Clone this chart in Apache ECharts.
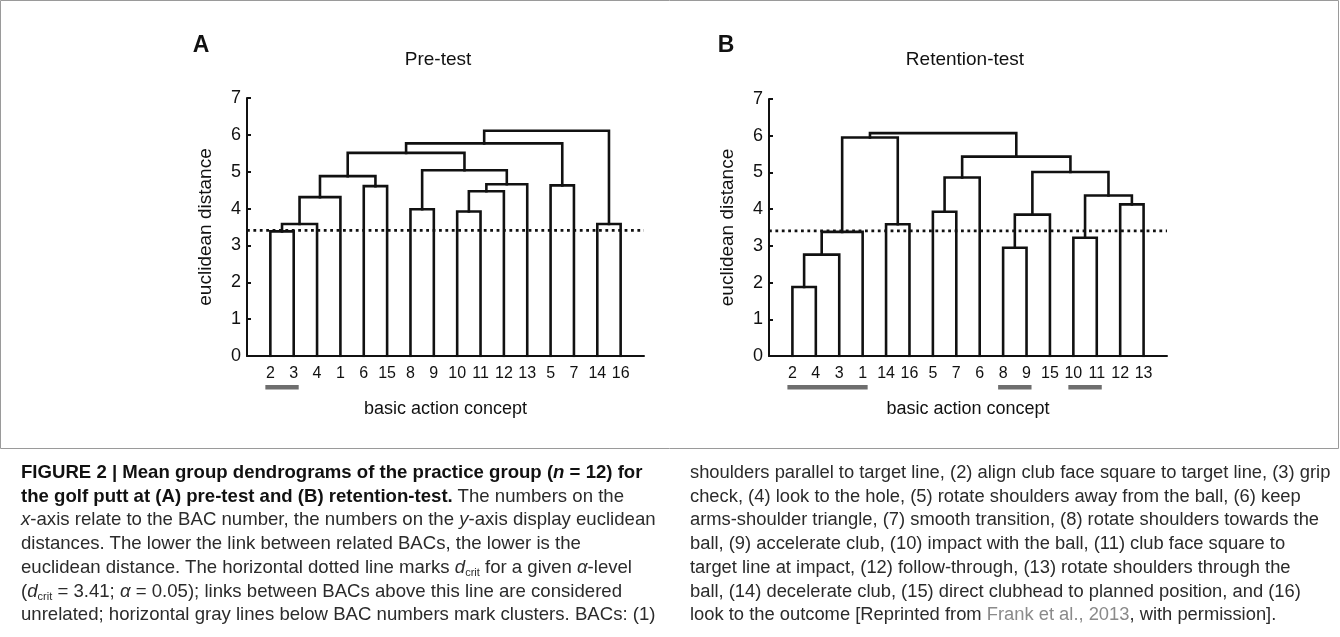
<!DOCTYPE html>
<html>
<head>
<meta charset="utf-8">
<script src="https://cdn.jsdelivr.net/npm/echarts@6/dist/echarts.min.js"></script>
<style>
  html, body { margin: 0; padding: 0; background: #fff; }
  #wrap { position: relative; width: 1340px; height: 637px; overflow: hidden; }
  #chart { position: absolute; left: 0; top: 0; width: 1340px; height: 637px; }
  .cap { position: absolute; top: 460px; font-family: "Liberation Sans", Arial, sans-serif; font-size: 18.6px; line-height: 23.7px; color: #2b2b2b; white-space: nowrap; }
  .cap b { color: #111; }
  .cap sub { font-size: 11px; vertical-align: -3px; line-height: 0; }
  .cap .ref { color: #8a8a8a; }
</style>
</head>
<body>
<div id="wrap">
  <div id="chart"></div>
  <div class="cap" style="left:21px;">
    <b>FIGURE 2 | Mean group dendrograms of the practice group (<i>n</i> = 12) for</b><br>
    <b>the golf putt at (A) pre-test and (B) retention-test.</b> The numbers on the<br>
    <i>x</i>-axis relate to the BAC number, the numbers on the <i>y</i>-axis display euclidean<br>
    distances. The lower the link between related BACs, the lower is the<br>
    euclidean distance. The horizontal dotted line marks <i>d</i><sub>crit</sub> for a given <i>α</i>-level<br>
    (<i>d</i><sub>crit</sub> = 3.41; <i>α</i> = 0.05); links between BACs above this line are considered<br>
    unrelated; horizontal gray lines below BAC numbers mark clusters. BACs: (1)
  </div>
  <div class="cap" style="left:690px; font-size:18.35px;">
    shoulders parallel to target line, (2) align club face square to target line, (3) grip<br>
    check, (4) look to the hole, (5) rotate shoulders away from the ball, (6) keep<br>
    arms-shoulder triangle, (7) smooth transition, (8) rotate shoulders towards the<br>
    ball, (9) accelerate club, (10) impact with the ball, (11) club face square to<br>
    target line at impact, (12) follow-through, (13) rotate shoulders through the<br>
    ball, (14) decelerate club, (15) direct clubhead to planned position, and (16)<br>
    look to the outcome [Reprinted from <span class="ref">Frank et al., 2013</span>, with permission].
  </div>
</div>
<script>
// ---------------- DATA ----------------
const yTicks = [0, 1, 2, 3, 4, 5, 6, 7];
const dCrit = 3.41;

// Panel A: Pre-test
const leavesA = [2, 3, 4, 1, 6, 15, 8, 9, 10, 11, 12, 13, 5, 7, 14, 16];
// merges: [left node, right node, height]; leaf = "Lk", merge = "Mi"
const mergesA = [
  ["L2", "L3", 3.38],   // M0
  ["M0", "L4", 3.58],   // M1
  ["M1", "L1", 4.31],   // M2
  ["L6", "L15", 4.61],  // M3
  ["M2", "M3", 4.88],   // M4
  ["L8", "L9", 3.98],   // M5
  ["L10", "L11", 3.92], // M6
  ["M6", "L12", 4.47],  // M7
  ["M7", "L13", 4.66],  // M8
  ["M5", "M8", 5.04],   // M9
  ["M4", "M9", 5.51],   // M10
  ["L5", "L7", 4.63],   // M11
  ["M10", "M11", 5.77], // M12
  ["L14", "L16", 3.58], // M13
  ["M12", "M13", 6.11]  // M14
];
const clustersA = [[2, 3]];

// Panel B: Retention-test
const leavesB = [2, 4, 3, 1, 14, 16, 5, 7, 6, 8, 9, 15, 10, 11, 12, 13];
const mergesB = [
  ["L2", "L4", 1.88],   // M0
  ["M0", "L3", 2.76],   // M1
  ["M1", "L1", 3.38],   // M2
  ["L14", "L16", 3.59], // M3
  ["M2", "M3", 5.95],   // M4
  ["L5", "L7", 3.93],   // M5
  ["M5", "L6", 4.86],   // M6
  ["L8", "L9", 2.95],   // M7
  ["M7", "L15", 3.85],  // M8
  ["L10", "L11", 3.22], // M9
  ["L12", "L13", 4.13], // M10
  ["M9", "M10", 4.37],  // M11
  ["M8", "M11", 5.01],  // M12
  ["M6", "M12", 5.43],  // M13
  ["M4", "M13", 6.07]   // M14
];
const clustersB = [[2, 4, 3, 1], [8, 9], [10, 11]];

const titles = ["Pre-test", "Retention-test"];
const panelLetters = ["A", "B"];
const xName = "basic action concept";
const yName = "euclidean distance";

// ---------------- BUILD ----------------
function buildLinks(leaves, merges) {
  const nodes = {};
  leaves.forEach((lab, i) => { nodes["L" + lab] = { x: i + 1, h: 0 }; });
  const links = [];
  merges.forEach((m, i) => {
    const a = nodes[m[0]], b = nodes[m[1]], h = m[2];
    links.push([[a.x, a.h], [a.x, h], [b.x, h], [b.x, b.h]]);
    nodes["M" + i] = { x: (a.x + b.x) / 2, h: h };
  });
  return links;
}

const FONT = '"Liberation Sans", Arial, sans-serif';
const panels = [
  { leaves: leavesA, merges: mergesA, clusters: clustersA },
  { leaves: leavesB, merges: mergesB, clusters: clustersB }
];

const grids = [
  { left: 247, top: 98, width: 397, height: 258 },
  { left: 769, top: 99, width: 398, height: 257 }
];

const xAxes = [], yAxes = [], series = [];
panels.forEach((p, k) => {
  xAxes.push({
    type: 'value', gridIndex: k, min: 0, max: 17, interval: 1,
    axisLine: { show: true, onZero: false, lineStyle: { color: '#111', width: 2 } },
    axisTick: { show: false },
    splitLine: { show: false },
    axisLabel: {
      color: '#111', fontSize: 16, fontFamily: FONT, margin: 10,
      formatter: v => (v >= 1 && v <= p.leaves.length) ? String(p.leaves[v - 1]) : ''
    },
    name: xName, nameLocation: 'middle', nameGap: 44,
    nameTextStyle: { color: '#111', fontSize: 18, fontFamily: FONT }
  });
  yAxes.push({
    type: 'value', gridIndex: k, min: 0, max: 7, interval: 1,
    axisLine: { show: true, lineStyle: { color: '#111', width: 2 } },
    axisTick: { show: true, inside: true, length: 4, lineStyle: { color: '#111', width: 2 } },
    splitLine: { show: false },
    axisLabel: { color: '#111', fontSize: 18, fontFamily: FONT, margin: 6,
      formatter: v => yTicks.indexOf(v) >= 0 ? String(v) : '' },
    name: yName, nameLocation: 'middle', nameGap: 32, nameRotate: 90,
    nameTextStyle: { color: '#111', fontSize: 19, fontFamily: FONT }
  });
  buildLinks(p.leaves, p.merges).forEach(path => {
    series.push({
      type: 'line', xAxisIndex: k, yAxisIndex: k, data: path,
      symbol: 'none', silent: true, animation: false, z: 3,
      lineStyle: { color: '#111', width: 2.6, join: 'miter', cap: 'square' }
    });
  });
  series.push({
    type: 'line', xAxisIndex: k, yAxisIndex: k,
    data: [[0, dCrit], [17, dCrit]],
    symbol: 'none', silent: true, animation: false, z: 4,
    lineStyle: { color: '#111', width: 2.8, type: [2.8, 3.6] }
  });
  // cluster gray bars below BAC numbers
  series.push({
    type: 'custom', xAxisIndex: k, yAxisIndex: k, silent: true, animation: false,
    clip: false,
    data: p.clusters.map(c => [p.leaves.indexOf(c[0]) + 1, p.leaves.indexOf(c[c.length - 1]) + 1]),
    renderItem: (params, api) => {
      const s = api.coord([api.value(0), 0]);
      const e = api.coord([api.value(1), 0]);
      return {
        type: 'rect',
        shape: { x: s[0] - 5, y: s[1] + 29, width: e[0] - s[0] + 10, height: 4.5 },
        style: { fill: '#6e6e6e' }
      };
    }
  });
});

const graphic = [
  { type: 'rect', shape: { x: 0.5, y: 0.5, width: 1338, height: 448 },
    style: { fill: 'none', stroke: '#9a9a9a', lineWidth: 1 }, z: -10 },
  { type: 'text', style: { x: 201, y: 46, text: panelLetters[0], font: 'bold 23px ' + FONT, fill: '#111', textAlign: 'center', textVerticalAlign: 'middle' } },
  { type: 'text', style: { x: 726, y: 46, text: panelLetters[1], font: 'bold 23px ' + FONT, fill: '#111', textAlign: 'center', textVerticalAlign: 'middle' } },
  { type: 'text', style: { x: 438, y: 60, text: titles[0], font: '19px ' + FONT, fill: '#111', textAlign: 'center', textVerticalAlign: 'middle' } },
  { type: 'text', style: { x: 965, y: 60, text: titles[1], font: '19px ' + FONT, fill: '#111', textAlign: 'center', textVerticalAlign: 'middle' } }
];

const chart = echarts.init(document.getElementById('chart'), null, { renderer: 'canvas' });
chart.setOption({
  backgroundColor: '#fff',
  animation: false,
  grid: grids,
  xAxis: xAxes,
  yAxis: yAxes,
  series: series,
  graphic: graphic
});
</script>
</body>
</html>
